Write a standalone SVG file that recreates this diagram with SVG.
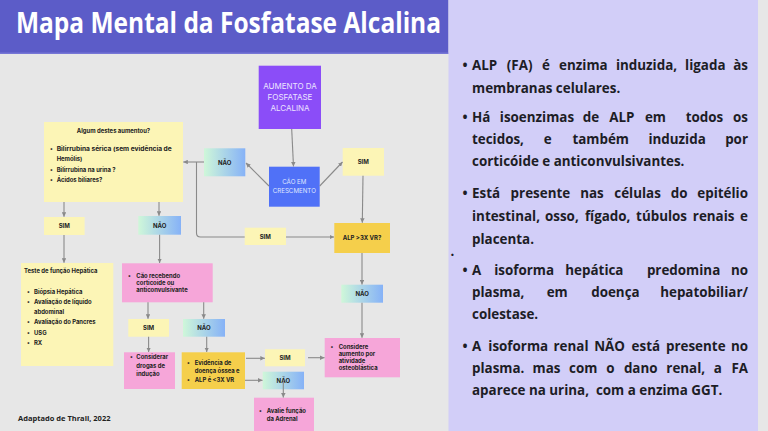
<svg xmlns="http://www.w3.org/2000/svg" width="768" height="431" viewBox="0 0 768 431">
<style>
.bt{font-family:Inter,"Liberation Sans",sans-serif;font-weight:700;fill:#222;font-size:5.9px}
.lb{font-family:Inter,"Liberation Sans",sans-serif;font-weight:700;fill:#222;font-size:6px;text-anchor:middle}
.wt{font-family:Inter,"Liberation Sans",sans-serif;font-weight:400;text-anchor:middle}
.pt{font-family:"Open Sans","Noto Sans",sans-serif;font-weight:700;fill:#1d1d26;font-size:13.4px}
.ly{fill:#fcf5b6}
.dy{fill:#f5cf4b}
.pk{fill:#f6a6d9}
.no{fill:url(#gNao)}
.cn{fill:none;stroke:#8a8a8a;stroke-width:1.1;marker-end:url(#ah)}
</style>
<defs>
<linearGradient id="gNao" x1="0" y1="0" x2="1" y2="0">
<stop offset="0" stop-color="#cff7d9"/>
<stop offset="1" stop-color="#86b2f7"/>
</linearGradient>
<marker id="ah" viewBox="0 0 6 6" refX="6" refY="3" markerWidth="4.5" markerHeight="4.5" markerUnits="userSpaceOnUse" orient="auto">
<path d="M0,0 L6,3 L0,6 z" fill="#8a8a8a"/>
</marker>
</defs>
<rect x="0" y="0" width="768" height="431" fill="#e7e7e7"/>
<g id="title">
<rect x="0" y="0" width="448.5" height="54" fill="#5c5cc8"/>
<rect x="0" y="52.5" width="448.5" height="1.5" fill="#7676d6"/>
<text x="16" y="33.3" font-family="'Open Sans','Noto Sans',sans-serif" font-weight="700" font-size="28.5" fill="#ffffff" textLength="425" lengthAdjust="spacingAndGlyphs">Mapa Mental da Fosfatase Alcalina</text>
</g>
<g id="panel">
<rect x="448.5" y="0" width="309.5" height="431" fill="#d2cef8"/>
<text class="pt" x="462.5" y="70">•</text>
<text class="pt" y="70"><tspan x="472">ALP</tspan><tspan x="506.8">(FA)</tspan><tspan x="541.9">é</tspan><tspan x="559.1">enzima</tspan><tspan x="615.9">induzida,</tspan><tspan x="685.1">ligada</tspan><tspan x="748" text-anchor="end">às</tspan></text>
<text class="pt" x="472" y="93">membranas celulares.</text>
<text class="pt" x="462.5" y="122">•</text>
<text class="pt" y="122"><tspan x="472">Há</tspan><tspan x="499.8">isoenzimas</tspan><tspan x="582.8">de</tspan><tspan x="609.2">ALP</tspan><tspan x="644.9">em</tspan><tspan x="685.7">todos</tspan><tspan x="748" text-anchor="end">os</tspan></text>
<text class="pt" y="144"><tspan x="472">tecidos,</tspan><tspan x="543.7">e</tspan><tspan x="572.4">também</tspan><tspan x="648.4">induzida</tspan><tspan x="748" text-anchor="end">por</tspan></text>
<text class="pt" x="472" y="166">corticóide e anticonvulsivantes.</text>
<text class="pt" x="462.5" y="198">•</text>
<text class="pt" y="198"><tspan x="472">Está</tspan><tspan x="510.6">presente</tspan><tspan x="580.2">nas</tspan><tspan x="614.3">células</tspan><tspan x="670.7">do</tspan><tspan x="748" text-anchor="end">epitélio</tspan></text>
<text class="pt" y="221"><tspan x="472">intestinal,</tspan><tspan x="545">osso,</tspan><tspan x="584.9">fígado,</tspan><tspan x="636.1">túbulos</tspan><tspan x="692.8">renais</tspan><tspan x="748" text-anchor="end">e</tspan></text>
<text class="pt" x="472" y="244">placenta.</text>
<text class="pt" x="450.5" y="256">.</text>
<text class="pt" x="462.5" y="275">•</text>
<text class="pt" y="275"><tspan x="472">A</tspan><tspan x="494.2">isoforma</tspan><tspan x="565.3">hepática</tspan><tspan x="646.9">predomina</tspan><tspan x="748" text-anchor="end">no</tspan></text>
<text class="pt" y="297"><tspan x="472">plasma,</tspan><tspan x="546.7">em</tspan><tspan x="591.2">doença</tspan><tspan x="748" text-anchor="end">hepatobiliar/</tspan></text>
<text class="pt" x="472" y="319">colestase.</text>
<text class="pt" x="462.5" y="351">•</text>
<text class="pt" y="351"><tspan x="472">A</tspan><tspan x="488.3">isoforma</tspan><tspan x="553.5">renal</tspan><tspan x="594.2">NÃO</tspan><tspan x="631.6">está</tspan><tspan x="666">presente</tspan><tspan x="748" text-anchor="end">no</tspan></text>
<text class="pt" y="373"><tspan x="472">plasma.</tspan><tspan x="532.5">mas</tspan><tspan x="569.1">com</tspan><tspan x="606.2">o</tspan><tspan x="623.9">dano</tspan><tspan x="666.3">renal,</tspan><tspan x="713.7">a</tspan><tspan x="748" text-anchor="end">FA</tspan></text>
<text class="pt" x="472" y="395">aparece na urina,&#160; com a enzima GGT.</text>
</g>
<g id="n-aumento">
<rect x="258.7" y="65.7" width="62.3" height="63.3" fill="#8b4df8"/>
<text class="wt" x="290" y="89" font-size="8" fill="#ece4ff">AUMENTO DA</text>
<text class="wt" x="290" y="100" font-size="8" fill="#ece4ff">FOSFATASE</text>
<text class="wt" x="290" y="111" font-size="8" fill="#ece4ff">ALCALINA</text>
</g>
<g id="n-cao">
<rect x="269" y="166.7" width="50.7" height="40" fill="#5071f7"/>
<text class="wt" x="294.3" y="184" font-size="6.2" fill="#dfe5ff">CÃO EM</text>
<text class="wt" x="294.3" y="193" font-size="6.2" fill="#dfe5ff">CRESCMENTO</text>
</g>
<g id="n-nao-top"><rect class="no" x="204" y="148.3" width="41.3" height="28"/><text class="lb" x="224.7" y="164.5">NÃO</text></g>
<g id="n-sim-top"><rect class="ly" x="342.7" y="148" width="41.3" height="27.7"/><text class="lb" x="363.3" y="164">SIM</text></g>
<g id="n-sim-mid"><rect class="ly" x="244.7" y="227.7" width="41.3" height="17.3"/><text class="lb" x="265.3" y="238.6">SIM</text></g>
<g id="n-alp"><rect class="dy" x="334.3" y="223" width="55.7" height="30"/><text class="lb" x="362" y="240">ALP &gt;3X VR?</text></g>
<g id="n-algum">
<rect class="ly" x="44" y="122" width="139" height="80"/>
<text class="bt" x="113.5" y="133.3" text-anchor="middle" font-size="7.2">Algum destes aumentou?</text>
<text class="bt" x="50" y="151" font-size="7">•</text><text class="bt" x="56.7" y="151" font-size="7" textLength="115" lengthAdjust="spacingAndGlyphs">Bilirrubina sérica (sem evidência de</text>
<text class="bt" x="56.7" y="161.3" font-size="7">Hemólis)</text>
<text class="bt" x="50" y="171.6" font-size="7">•</text><text class="bt" x="56.7" y="171.6" font-size="7">Bilirrubina na urina ?</text>
<text class="bt" x="50" y="182" font-size="7">•</text><text class="bt" x="56.7" y="182" font-size="7">Ácidos biliares?</text>
</g>
<g id="n-sim-left"><rect class="ly" x="44" y="217" width="40.6" height="18"/><text class="lb" x="64.3" y="228.2">SIM</text></g>
<g id="n-nao-left"><rect class="no" x="138.3" y="216" width="42.7" height="18.7"/><text class="lb" x="159.6" y="227.5">NÃO</text></g>
<g id="n-teste">
<rect class="ly" x="21" y="263" width="92.3" height="103"/>
<text class="bt" x="24" y="273" font-size="6.5">Teste de função Hepática</text>
<text class="bt" x="27" y="293.5" font-size="6.2">•</text><text class="bt" x="34" y="293.5" font-size="6.2">Biópsia Hepática</text>
<text class="bt" x="27" y="304" font-size="6.2">•</text><text class="bt" x="34" y="304" font-size="6.2">Avaliação de líquido</text>
<text class="bt" x="34" y="314" font-size="6.2">abdominal</text>
<text class="bt" x="27" y="324" font-size="6.2">•</text><text class="bt" x="34" y="324" font-size="6.2">Avaliação do Pancres</text>
<text class="bt" x="27" y="334.5" font-size="6.2">•</text><text class="bt" x="34" y="334.5" font-size="6.2">USG</text>
<text class="bt" x="27" y="345" font-size="6.2">•</text><text class="bt" x="34" y="345" font-size="6.2">RX</text>
</g>
<g id="n-recebendo">
<rect class="pk" x="122" y="263.3" width="90.7" height="39"/>
<text class="bt" x="128" y="277.5">•</text><text class="bt" x="136.3" y="277.5">Cão recebendo</text>
<text class="bt" x="136.3" y="285">corticoide ou</text>
<text class="bt" x="136.3" y="292.3">anticonvulsivante</text>
</g>
<g id="n-sim-2"><rect class="ly" x="128.3" y="319" width="40.7" height="17.7"/><text class="lb" x="148.6" y="330">SIM</text></g>
<g id="n-nao-2"><rect class="no" x="183" y="319" width="42" height="17.7"/><text class="lb" x="204" y="330">NÃO</text></g>
<g id="n-considerar">
<rect class="pk" x="124" y="352.3" width="51" height="36.7"/>
<text class="bt" x="130" y="359">•</text><text class="bt" x="136.3" y="359">Considerar</text>
<text class="bt" x="136.3" y="367.7">drogas de</text>
<text class="bt" x="136.3" y="376.3">indução</text>
</g>
<g id="n-evidencia">
<rect class="dy" x="181.7" y="352.3" width="63.3" height="36.7"/>
<text class="bt" x="187" y="364.5">•</text><text class="bt" x="194.7" y="364.5">Evidência de</text>
<text class="bt" x="194.7" y="373">doença óssea e</text>
<text class="bt" x="187" y="381.5">•</text><text class="bt" x="194.7" y="381.5">ALP é &lt;3X VR</text>
</g>
<g id="n-sim-3"><rect class="ly" x="265" y="349.3" width="40" height="17"/><text class="lb" x="285" y="360">SIM</text></g>
<g id="n-nao-3"><rect class="no" x="262.7" y="371.7" width="41.3" height="17.6"/><text class="lb" x="283.3" y="382.6">NÃO</text></g>
<g id="n-avalie">
<rect class="pk" x="254" y="397.7" width="60" height="40"/>
<text class="bt" x="259" y="413">•</text><text class="bt" x="266.7" y="413">Avalie função</text>
<text class="bt" x="266.7" y="420.5">da Adrenal</text>
</g>
<g id="n-nao-4"><rect class="no" x="341.3" y="284.7" width="41.7" height="18"/><text class="lb" x="362.2" y="295.8">NÃO</text></g>
<g id="n-considere">
<rect class="pk" x="324.7" y="338" width="75.3" height="39.3"/>
<text class="bt" x="330.5" y="348.5" font-size="5.6">•</text><text class="bt" x="338.7" y="348.5" font-size="5.6">Considere</text>
<text class="bt" x="338.7" y="355.5" font-size="5.6">aumento por</text>
<text class="bt" x="338.7" y="362.5" font-size="5.6">atividade</text>
<text class="bt" x="338.7" y="369.5" font-size="5.6">osteoblástica</text>
</g>
<g id="footer">
<text x="18" y="421" font-family="'Open Sans','Noto Sans',sans-serif" font-weight="700" font-size="7.5" fill="#222">Adaptado de Thrall, 2022</text>
</g>
<g id="connectors">
<path class="cn" d="M291.7,129 L293.5,166.5"/>
<path class="cn" d="M269,186 L246,163"/>
<path class="cn" d="M319.7,186 L342.5,162"/>
<path class="cn" d="M363,175.7 L362.3,222.8"/>
<path class="cn" d="M204,162 L183.3,162"/>
<path fill="none" stroke="#8a8a8a" stroke-width="1.1" d="M196.5,162 L196.5,233 Q196.5,237 200.5,237 L244.7,237"/>
<path class="cn" d="M286,237 L334,237"/>
<path class="cn" d="M64,202 L64,216.8"/>
<path class="cn" d="M159,202 L159,215.8"/>
<path class="cn" d="M64,235 L64,262.8"/>
<path class="cn" d="M159.6,234.7 L159.6,263"/>
<path class="cn" d="M148,302.3 L148,318.8"/>
<path class="cn" d="M203.7,302.3 L203.7,318.8"/>
<path class="cn" d="M148.6,336.7 L148.6,352"/>
<path class="cn" d="M206.7,336.7 L206.7,352"/>
<path class="cn" d="M246,358.3 L264.8,358.3"/>
<path class="cn" d="M245,380.3 L262.5,380.3"/>
<path class="cn" d="M283.3,381 L283.3,397.5"/>
<path class="cn" d="M308,357.7 L324.5,357.7"/>
<path class="cn" d="M362,253 L362,284.5"/>
<path class="cn" d="M362,302.7 L362,337.8"/>
</g>
</svg>
